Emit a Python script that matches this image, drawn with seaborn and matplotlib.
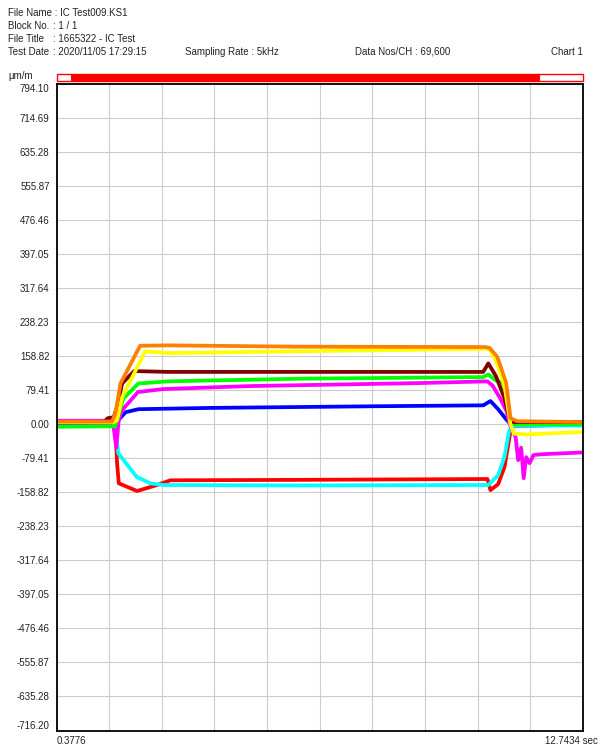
import numpy as np
import pandas as pd
import seaborn as sns
import matplotlib.pyplot as plt
from matplotlib.patches import Rectangle

t_start, t_end = 0.3776, 12.7434
y_top, y_bottom = 794.10, -716.20
y_ticks = [794.10, 714.69, 635.28, 555.87, 476.46, 397.05, 317.64, 238.23, 158.82, 79.41,
           0.00, -79.41, -158.82, -238.23, -317.64, -397.05, -476.46, -555.87, -635.28, -716.20]

# channel traces: time (s), strain (um/m)
red_t = [0.3776, 1.76, 1.80, 1.84, 2.27, 2.74, 3.05, 6.0, 10.5, 10.57, 10.75, 10.9, 11.0, 11.06, 12.7434]
red_v = [2, 2, -91, -138, -156, -142, -131, -130, -128, -154, -140, -100, -40, -5, 0]

cyan_t = [0.3776, 1.75, 1.83, 2.26, 2.58, 2.88, 6.0, 10.52, 10.75, 10.9, 11.0, 11.06, 12.7434]
cyan_v = [0, -2, -68, -123, -138, -142, -143, -142, -119, -76, -20, -4, -3]

blue_t = [0.3776, 1.78, 1.87, 2.0, 2.3, 4.0, 8.0, 10.4, 10.57, 10.75, 10.95, 11.05, 12.7434]
blue_v = [2, 2, 14, 28, 35, 38, 42, 44, 54, 35, 10, 0, 0]

magenta_t = [0.3776, 1.70, 1.78, 1.84, 1.92, 2.29, 2.88, 4.93, 8.92, 10.5, 10.62, 10.8, 10.95, 11.02,
             11.16, 11.22, 11.29, 11.35, 11.41, 11.49, 11.58, 11.8, 12.7434]
magenta_v = [8, 8, -55, 10, 33, 75, 82, 89, 96, 100, 90, 60, 30, 0,
             -30, -84, -55, -126, -77, -91, -72, -70, -66]

green_t = [0.3776, 1.75, 1.95, 2.3, 3.0, 6.0, 10.4, 10.52, 10.7, 10.88, 11.0, 11.06, 12.7434]
green_v = [-6, -5, 60, 95, 100, 106, 110, 116, 102, 95, 30, 0, 0]

maroon_t = [0.3776, 1.5, 1.58, 1.72, 1.80, 1.92, 2.2, 3.0, 10.4, 10.52, 10.7, 10.9, 11.04, 11.2, 12.7434]
maroon_v = [5, 5, 14, 16, 40, 95, 124, 122, 122, 142, 112, 60, 5, 5, 5]

yellow_t = [0.3776, 1.72, 1.80, 1.92, 2.46, 3.0, 6.0, 10.45, 10.55, 10.70, 10.90, 11.04, 11.12, 11.4, 12.7434]
yellow_v = [4, 4, 10, 63, 170, 166, 170, 176, 175, 148, 90, 0, -22, -24, -18]

orange_t = [0.3776, 1.68, 1.76, 1.88, 2.34, 3.0, 6.0, 10.45, 10.55, 10.73, 10.94, 11.04, 11.2, 12.7434]
orange_v = [6, 6, 25, 95, 183, 184, 181, 180, 178, 157, 96, 14, 7, 5]

channels = {
    "red": (red_t, red_v, "#ff0000"),
    "cyan": (cyan_t, cyan_v, "#00ffff"),
    "blue": (blue_t, blue_v, "#0000ff"),
    "magenta": (magenta_t, magenta_v, "#ff00ff"),
    "green": (green_t, green_v, "#00ff00"),
    "maroon": (maroon_t, maroon_v, "#800000"),
    "yellow": (yellow_t, yellow_v, "#ffff00"),
    "orange": (orange_t, orange_v, "#ff8000"),
}

df = pd.concat([pd.DataFrame({"time": t, "strain": v, "channel": name})
                for name, (t, v, c) in channels.items()], ignore_index=True)
palette = {name: c for name, (t, v, c) in channels.items()}

sns.set_style("white")
plt.rcParams["font.family"] = ["Liberation Sans", "DejaVu Sans"]
fs = 7
txt = "#222222"

fig = plt.figure(figsize=(6.01, 7.47), dpi=100)
ax = fig.add_axes([56.5 / 601, 16 / 747, 526.5 / 601, 647 / 747])

sns.lineplot(data=df, x="time", y="strain", hue="channel", palette=palette,
             hue_order=list(channels), estimator=None, sort=False, legend=False,
             linewidth=2.7, ax=ax)

ax.set_xlim(t_start, t_end)
ax.set_ylim(y_bottom, y_top)

# grid: 10 vertical divisions, y grid on the tick values
ax.set_xticks(np.linspace(t_start, t_end, 11))
ax.set_xticklabels([])
ax.set_yticks(y_ticks)
ax.set_yticklabels([f"{v:.2f}" for v in y_ticks])
ax.grid(True, color="#cccccc", linewidth=0.8)
ax.set_axisbelow(True)
ax.tick_params(length=0, labelsize=fs, colors=txt, pad=5)
yl = ax.get_yticklabels()
yl[0].set_va("top")
yl[-1].set_va("bottom")
ax.set_xlabel("")
ax.set_ylabel("")
for s in ax.spines.values():
    s.set_color("black")
    s.set_linewidth(1.3)

fig.text(57 / 601, 1 - 741 / 747, f"{t_start:.4f}", fontsize=fs, ha="left", va="center", color=txt)
fig.text(598 / 601, 1 - 741 / 747, f"{t_end:.4f} sec", fontsize=fs, ha="right", va="center", color=txt)

# scroll bar above the chart
bx0, bx1 = 57 / 601, 583 / 601
by0, bh = (747 - 81) / 747, 7 / 747
fig.patches.append(Rectangle((bx0, by0), bx1 - bx0, bh, transform=fig.transFigure,
                             facecolor="white", edgecolor="#ff0000", linewidth=1))
fig.patches.append(Rectangle((71 / 601, by0), (540 - 71) / 601, bh, transform=fig.transFigure,
                             facecolor="#ff0000", edgecolor="none"))
fig.text(8 / 601, 1 - 76 / 747, "\u00b5m/m", fontsize=fs, va="center", ha="left", color=txt)

# header
header = [
    (8, 13, "File Name : IC Test009.KS1", "left"),
    (8, 26, "Block No.", "left"),
    (53, 26, ": 1 / 1", "left"),
    (8, 39, "File Title", "left"),
    (53, 39, ": 1665322 - IC Test", "left"),
    (8, 52, "Test Date", "left"),
    (53, 52, ": 2020/11/05 17:29:15", "left"),
    (185, 52, "Sampling Rate : 5kHz", "left"),
    (355, 52, "Data Nos/CH : 69,600", "left"),
    (583, 52, "Chart 1", "right"),
]
for x, y, s, ha in header:
    fig.text(x / 601, 1 - y / 747, s, fontsize=fs, ha=ha, va="center", color=txt)

fig.savefig("out.png", dpi=100)
plt.close(fig)
